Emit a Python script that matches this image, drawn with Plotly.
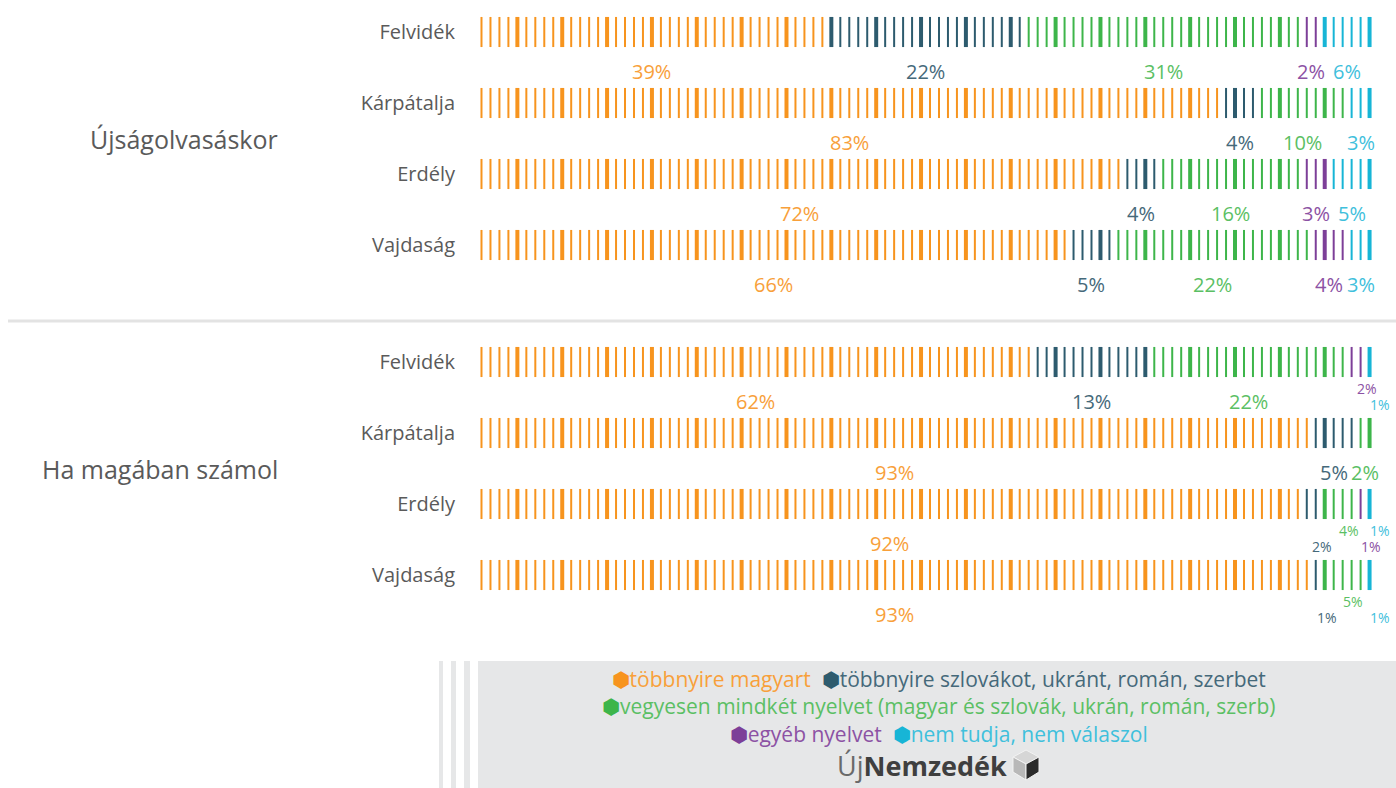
import plotly.graph_objects as go

# ---- data ----
regions = ["Felvidék", "Kárpátalja", "Erdély", "Vajdaság"]
groups = ["Újságolvasáskor", "Ha magában számol"]
categories = [
    "többnyire magyart",
    "többnyire szlovákot, ukránt, román, szerbet",
    "vegyesen mindkét nyelvet (magyar és szlovák, ukrán, román, szerb)",
    "egyéb nyelvet",
    "nem tudja, nem válaszol",
]

# Újságolvasáskor (%), order: Felvidék, Kárpátalja, Erdély, Vajdaság
ujsag_magyar = [39, 83, 72, 66]
ujsag_szlovak = [22, 4, 4, 5]
ujsag_vegyes = [31, 10, 16, 22]
ujsag_egyeb = [2, 0, 3, 4]
ujsag_nemtudja = [6, 3, 5, 3]

# Ha magában számol (%)
szamol_magyar = [62, 93, 92, 93]
szamol_szlovak = [13, 5, 2, 1]
szamol_vegyes = [22, 2, 4, 5]
szamol_egyeb = [2, 0, 1, 0]
szamol_nemtudja = [1, 0, 1, 1]

values = [
    [ujsag_magyar, ujsag_szlovak, ujsag_vegyes, ujsag_egyeb, ujsag_nemtudja],
    [szamol_magyar, szamol_szlovak, szamol_vegyes, szamol_egyeb, szamol_nemtudja],
]

# ---- style ----
colors = ["#f7941e", "#2d5b6e", "#3db54a", "#7d3f98", "#17b5d6"]
label_colors = ["#f8a03a", "#45697a", "#5bbf64", "#8c52a4", "#3fc0dc"]
FONT = "Open Sans"
GREY = "#5a5a5a"

# labels of narrow segments: smaller, staggered (group, region, category)
small_labels = {
    (1, 0, 3): "up", (1, 0, 4): "low",
    (1, 2, 1): "low", (1, 2, 2): "up", (1, 2, 3): "low", (1, 2, 4): "up",
    (1, 3, 1): "low", (1, 3, 2): "up", (1, 3, 4): "low",
}

W, H = 1396, 788
ML, MR = 477, 4
PW = W - ML - MR
XMAX = 102

def px(x):
    return (x - ML) / PW

def py(y):
    return 1 - y / H

row_gap = 71
panel_top = [0, 330]
first_row = [32, 362]
panel_h = 310

fig = go.Figure()
annotations = []

for g in range(len(groups)):
    yname = "y" if g == 0 else "y2"
    for r in range(len(regions)):
        cum = 0
        for c, series in enumerate(values[g]):
            v = series[r]
            if v == 0:
                continue
            idx = list(range(cum, cum + v))
            # line-ns marker length is 1.4 * size -> ~30px ticks
            fig.add_trace(go.Scatter(
                x=[i + 0.5 for i in idx],
                y=[r] * v,
                yaxis=yname,
                mode="markers",
                marker=dict(symbol="line-ns", size=21.5, color=colors[c],
                            line=dict(color=colors[c],
                                      width=[4 if i % 5 == 4 else 2 for i in idx])),
                name=categories[c],
                showlegend=False,
                hoverinfo="skip",
            ))
            center = cum + v / 2
            place = small_labels.get((g, r, c))
            if place is None:
                annotations.append(dict(x=center, y=r + 0.56, xref="x", yref=yname,
                                        text=f"{v}%", showarrow=False, yanchor="middle",
                                        font=dict(family=FONT, size=20, color=label_colors[c])))
            else:
                dy = 0.37 if place == "up" else 0.60
                annotations.append(dict(x=center + 1.2, y=r + dy, xref="x", yref=yname,
                                        text=f"{v}%", showarrow=False, yanchor="middle",
                                        font=dict(family=FONT, size=14, color=label_colors[c])))
            cum += v
    # group title
    annotations.append(dict(x=px(280), y=1.5, xref="paper", yref=yname, xanchor="right",
                            yanchor="middle", text=groups[g], showarrow=False,
                            font=dict(family=FONT, size=25, color=GREY)))

def yaxis_for(g):
    ymin = -(first_row[g] - panel_top[g]) / row_gap
    ymax = ymin + panel_h / row_gap
    return dict(
        domain=[py(panel_top[g] + panel_h), py(panel_top[g])],
        range=[ymax, ymin],
        tickvals=list(range(len(regions))),
        ticktext=regions,
        tickfont=dict(family=FONT, size=20, color=GREY),
        ticklabelstandoff=21,
        showgrid=False, zeroline=False, showline=False, ticks="",
        anchor="x",
        fixedrange=True,
    )

# legend box (three centred lines)
def item(c):
    return (f'<span style="color:{colors[c]}">⬢</span>'
            f'<span style="color:{label_colors[c]}">{categories[c]}</span>')

legend_text = "<br>".join([
    item(0) + "  " + item(1),
    item(2),
    item(3) + "  " + item(4),
])
annotations.append(dict(x=px(938), y=py(706), xref="paper", yref="paper", text=legend_text,
                        yanchor="middle", align="center", showarrow=False,
                        font=dict(family=FONT, size=21, color=GREY)))
annotations.append(dict(x=px(922), y=py(765), xref="paper", yref="paper", yanchor="middle",
                        text='<span style="color:#6a6a6a">Új</span><b>Nemzedék</b>', showarrow=False,
                        font=dict(family=FONT, size=27, color="#3f3f3f")))

shapes = [
    dict(type="line", xref="paper", yref="paper", x0=px(8), x1=px(1396), y0=py(321), y1=py(321),
         line=dict(color="#e3e3e3", width=3)),
    dict(type="rect", xref="paper", yref="paper", x0=px(478), x1=px(1396), y0=py(661), y1=py(788),
         fillcolor="#e6e7e8", line=dict(width=0), layer="below"),
]
for a, b in [(439, 443), (451, 456), (464, 470)]:
    shapes.append(dict(type="rect", xref="paper", yref="paper", x0=px(a), x1=px(b), y0=py(661), y1=py(788),
                       fillcolor="#e6e7e8", line=dict(width=0), layer="below"))

# cube icon of the logo
def poly(pts, color):
    path = "M " + " L ".join(f"{px(x)},{py(y)}" for x, y in pts) + " Z"
    return dict(type="path", xref="paper", yref="paper", path=path, fillcolor=color,
                line=dict(color="#f2f2f2", width=1))

cx, cy = 1026, 765
shapes += [
    poly([(cx, cy - 15), (cx + 13, cy - 8), (cx, cy - 1), (cx - 13, cy - 8)], "#d6d6d6"),
    poly([(cx - 13, cy - 8), (cx, cy - 1), (cx, cy + 15), (cx - 13, cy + 7)], "#b8b8b8"),
    poly([(cx, cy - 1), (cx + 13, cy - 8), (cx + 13, cy + 7), (cx, cy + 15)], "#2b2b2b"),
]

fig.update_layout(
    width=W, height=H,
    margin=dict(l=ML, r=MR, t=0, b=0),
    paper_bgcolor="white", plot_bgcolor="rgba(0,0,0,0)",
    xaxis=dict(range=[0, XMAX], visible=False, fixedrange=True),
    yaxis=yaxis_for(0),
    yaxis2=yaxis_for(1),
    annotations=annotations,
    shapes=shapes,
    showlegend=False,
)

fig.write_html("out.html", config={"displayModeBar": False},
               post_script="document.body.style.margin='0';")
